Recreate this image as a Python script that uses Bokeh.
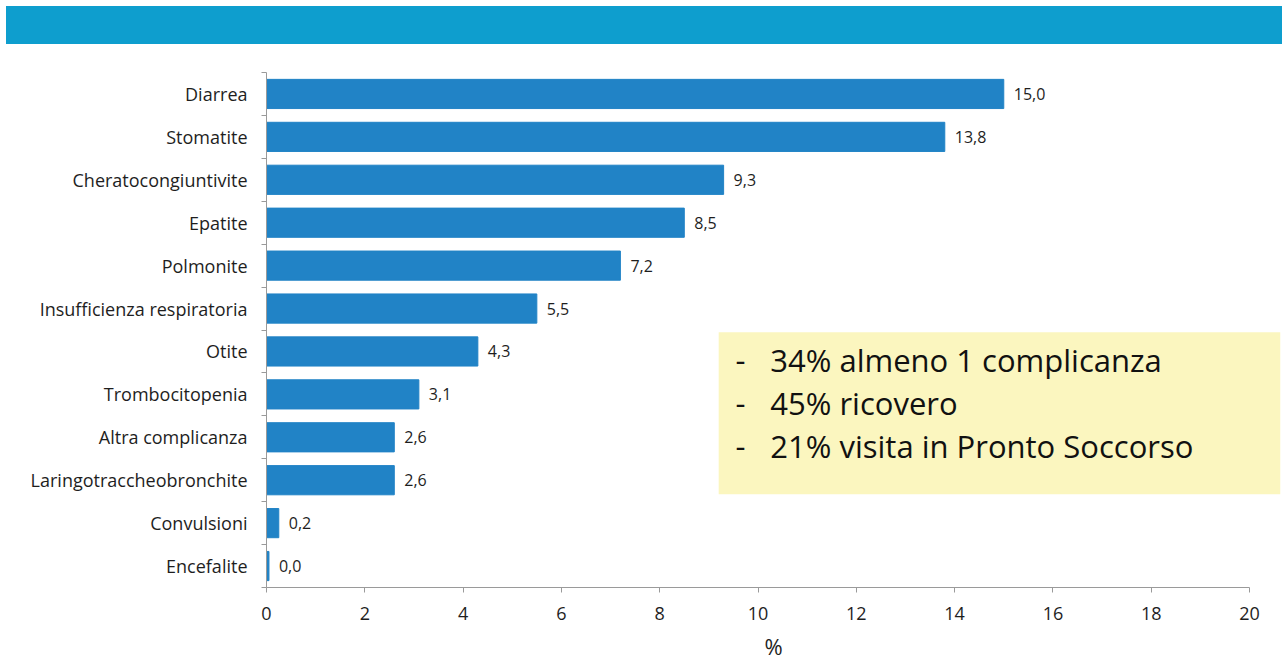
from bokeh.plotting import figure
from bokeh.models import (FixedTicker, BoxAnnotation, Label, LabelSet,
                          ColumnDataSource, Range1d, Div)
from bokeh.core.properties import value
from bokeh.layouts import column
from bokeh.embed import file_html
from bokeh.resources import INLINE

# ---- data ----
categories = ["Diarrea", "Stomatite", "Cheratocongiuntivite", "Epatite",
              "Polmonite", "Insufficienza respiratoria", "Otite",
              "Trombocitopenia", "Altra complicanza",
              "Laringotraccheobronchite", "Convulsioni", "Encefalite"]
values = [15.0, 13.8, 9.3, 8.5, 7.2, 5.5, 4.3, 3.1, 2.6, 2.6, 0.25, 0.05]
value_labels = ["15,0", "13,8", "9,3", "8,5", "7,2", "5,5", "4,3", "3,1",
                "2,6", "2,6", "0,2", "0,0"]
x_ticks = [0, 2, 4, 6, 8, 10, 12, 14, 16, 18, 20]
x_title = "%"
box_lines = ["34% almeno 1 complicanza", "45% ricovero",
             "21% visita in Pronto Soccorso"]

# ---- styles ----
FONT = "Open Sans"
BAR = "#2183C6"
BANNER = "#0E9ECE"
YELLOW = "#FBF6BF"
AXIS = "#9A9A9A"
TXT = "#1E1E1E"

n = len(categories)
ypos = [n - i - 0.5 for i in range(n)]
src = ColumnDataSource(dict(y=ypos, v=values, lbl=value_labels, cat=categories))

# banner
banner = Div(text="", width=1276, height=38, margin=(6, 0, 0, 6),
             styles={"background-color": BANNER})

# main
p = figure(width=1282, height=620, toolbar_location=None, output_backend="svg",
           x_range=Range1d(0, 20.63), y_range=Range1d(0, n),
           min_border_left=266, min_border_right=2,
           min_border_top=28, min_border_bottom=77, margin=(0, 0, 0, 0))
p.outline_line_color = None
p.grid.visible = False
p.background_fill_color = "white"
p.border_fill_color = "white"

p.add_layout(BoxAnnotation(left=9.2, bottom=2.17, top=5.95,
                           fill_color=YELLOW, fill_alpha=1.0,
                           line_color=None, level="underlay"))

p.hbar(y="y", left=0, right="v", height=0.68, color=BAR, source=src)

p.add_layout(LabelSet(x="v", y="y", text="lbl", source=src, x_offset=10,
                      text_baseline="middle", text_align="left",
                      text_font_size=value("16px"), text_color=value(TXT),
                      text_font=value(FONT)))

# x axis
xa = p.xaxis[0]
xa.ticker = FixedTicker(ticks=x_ticks)
xa.bounds = (0, 20)
xa.axis_line_color = AXIS
xa.major_tick_line_color = AXIS
xa.major_tick_out = 5
xa.major_tick_in = 0
xa.minor_tick_line_color = None
xa.major_label_standoff = 14
xa.major_label_text_font = FONT
xa.major_label_text_font_size = "18px"
xa.major_label_text_color = TXT
xa.axis_label = x_title
xa.axis_label_standoff = 8
xa.axis_label_text_font = FONT
xa.axis_label_text_font_style = "normal"
xa.axis_label_text_font_size = "22px"
xa.axis_label_text_color = TXT

# y axis
ya = p.yaxis[0]
ya.ticker = FixedTicker(ticks=ypos, minor_ticks=list(range(n + 1)))
ya.major_label_overrides = {float(y): c for y, c in zip(ypos, categories)}
ya.axis_line_color = AXIS
ya.major_tick_line_color = None
ya.major_tick_out = 0
ya.major_tick_in = 0
ya.minor_tick_line_color = AXIS
ya.minor_tick_out = 5
ya.minor_tick_in = 0
ya.major_label_standoff = 14
ya.major_label_text_font = FONT
ya.major_label_text_font_size = "18px"
ya.major_label_text_color = TXT

# box texts
for i, line in enumerate(box_lines):
    yy = 5.3 - i
    p.add_layout(Label(x=9.54, y=yy, text="-", text_align="left",
                       text_baseline="middle", text_font=FONT,
                       text_font_size="31px", text_color="#111111"))
    p.add_layout(Label(x=10.25, y=yy, text=line, text_align="left",
                       text_baseline="middle", text_font=FONT,
                       text_font_size="31px", text_color="#111111"))

layout = column(banner, p, spacing=0)
open("out.html", "w").write(file_html(layout, INLINE))
